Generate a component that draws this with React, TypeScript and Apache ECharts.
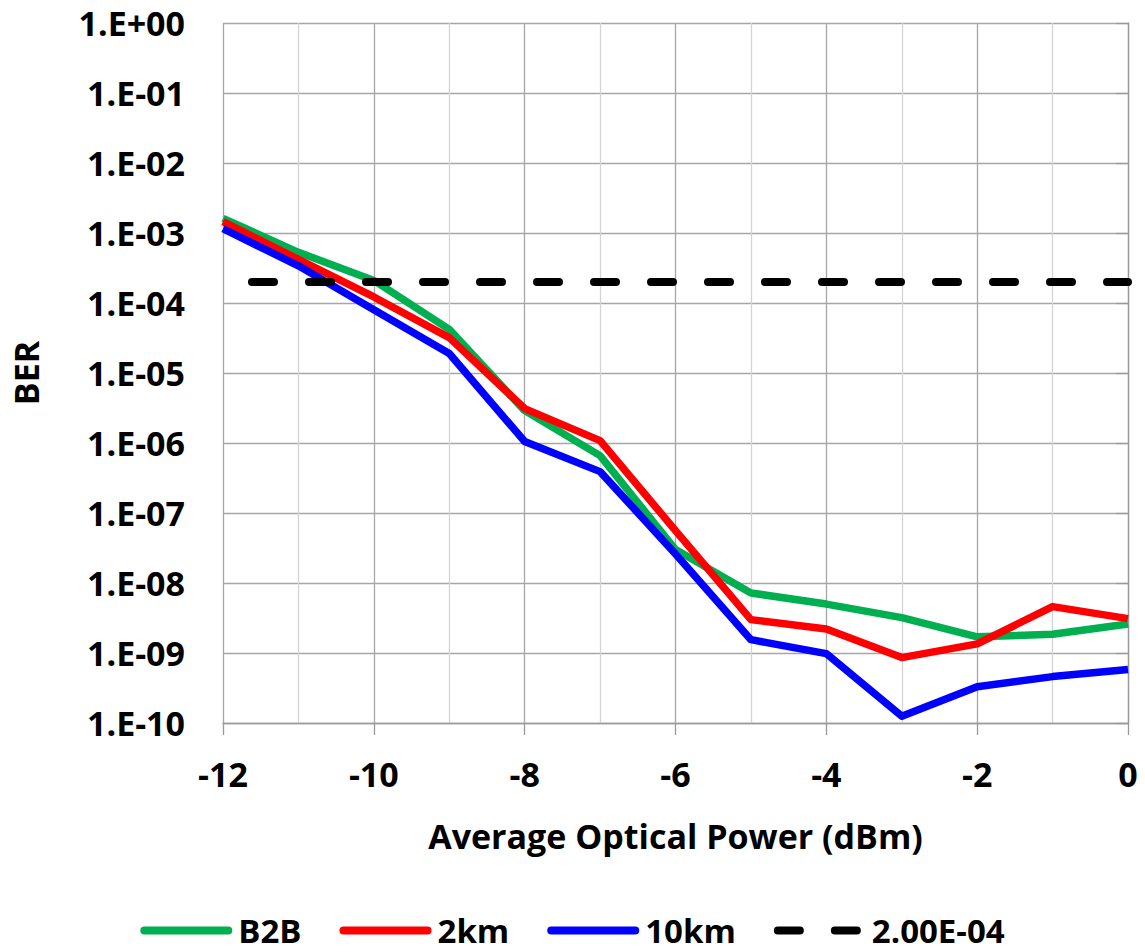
import React, { useEffect, useRef } from "react";
import * as echarts from "echarts";

const powers = [-12, -11, -10, -9, -8, -7, -6, -5, -4, -3, -2, -1, 0];
const berB2B = [1.62e-3, 5.3e-4, 2.1e-4, 4.2e-5, 2.9e-6, 6.6e-7, 3.0e-8, 7.2e-9, 5.0e-9, 3.2e-9, 1.7e-9, 1.85e-9, 2.6e-9];
const ber2km = [1.45e-3, 4.2e-4, 1.22e-4, 3.2e-5, 3.1e-6, 1.08e-6, 5.6e-8, 3.0e-9, 2.2e-9, 8.6e-10, 1.35e-9, 4.6e-9, 3.1e-9];
const ber10km = [1.15e-3, 3.4e-4, 8.0e-5, 1.9e-5, 1.05e-6, 3.9e-7, 2.6e-8, 1.55e-9, 9.8e-10, 1.25e-10, 3.3e-10, 4.6e-10, 5.8e-10];
const thresholdX = [-12, 0];
const thresholdValue = 2e-4;
const seriesNames = ["B2B", "2km", "10km", "2.00E-04"];
const seriesColors = ["#00B050", "#FF0000", "#0000FF", "#000000"];

const FONT = "'Open Sans', sans-serif";

function fmtExp(v: number): string {
  const e = Math.round(Math.log10(v));
  const sign = e < 0 ? "-" : "+";
  const a = Math.abs(e);
  return "1.E" + sign + (a < 10 ? "0" + a : String(a));
}

export default function App() {
  const ref = useRef<HTMLDivElement>(null);
  useEffect(() => {
    if (!ref.current) return;
    const chart = echarts.init(ref.current, null, { renderer: "svg" });
    const pair = (ys: number[]) => powers.map((x, i) => [x, ys[i]]);
    const textBase = { fontFamily: FONT, fontWeight: "bold" as const, fontSize: 34, color: "#000" };
    const lineSeries = (name: string, data: number[][], color: string) => ({
      name,
      type: "line",
      data,
      symbol: "none",
      lineStyle: { color, width: 7.5, join: "round" },
      itemStyle: { color },
    });
    chart.setOption({
      animation: false,
      backgroundColor: "#fff",
      grid: { left: 223, right: 17, top: 23, bottom: 229, containLabel: false },
      xAxis: {
        type: "value",
        min: -12,
        max: 0,
        interval: 2,
        name: "Average Optical Power (dBm)",
        nameLocation: "middle",
        nameGap: 96,
        nameTextStyle: { ...textBase },
        axisLine: { show: true, onZero: false, lineStyle: { color: "#9A9A9A", width: 1.3 } },
        axisTick: { show: true, length: 12, lineStyle: { color: "#9A9A9A", width: 1.3 } },
        axisLabel: { ...textBase, margin: 34 },
        splitLine: { show: true, lineStyle: { color: "#A6A6A6", width: 1.3 } },
        minorTick: { show: false, splitNumber: 2 },
        minorSplitLine: { show: true, lineStyle: { color: "#D4D4D4", width: 1.3 } },
      },
      yAxis: {
        type: "log",
        logBase: 10,
        min: 1e-10,
        max: 1,
        interval: 1,
        splitNumber: 10,
        name: "BER",
        nameLocation: "middle",
        nameGap: 180,
        nameRotate: 90,
        nameTextStyle: { ...textBase },
        axisLine: { show: true, lineStyle: { color: "#9A9A9A", width: 1.3 } },
        axisTick: { show: true, length: 12, lineStyle: { color: "#9A9A9A", width: 1.3 } },
        axisLabel: { ...textBase, margin: 38, formatter: (v: number) => fmtExp(v) },
        splitLine: { show: true, lineStyle: { color: "#A6A6A6", width: 1.3 } },
        minorSplitLine: { show: false },
      },
      legend: {
        show: true,
        left: "center",
        top: 914,
        padding: 0,
        itemWidth: 84,
        itemHeight: 32,
        itemGap: 38,
        data: seriesNames,
        textStyle: { ...textBase, fontSize: 33, lineHeight: 32, padding: [0, 0, 0, 5] },
        itemStyle: { opacity: 0 },
        lineStyle: { width: 8, dashOffset: 0, cap: "round" },
      },
      series: [
        lineSeries(seriesNames[0], pair(berB2B), seriesColors[0]),
        lineSeries(seriesNames[1], pair(ber2km), seriesColors[1]),
        lineSeries(seriesNames[2], pair(ber10km), seriesColors[2]),
        {
          name: seriesNames[3],
          type: "line",
          data: thresholdX.map((x) => [x, thresholdValue]),
          symbol: "none",
          lineStyle: { color: seriesColors[3], width: 8, type: [22, 35], dashOffset: 28, cap: "round" },
          itemStyle: { color: seriesColors[3] },
        },
      ],
    });
    return () => chart.dispose();
  }, []);
  return <div ref={ref} style={{ position: "fixed", left: 0, top: 0, width: 1145, height: 952 }} />;
}
